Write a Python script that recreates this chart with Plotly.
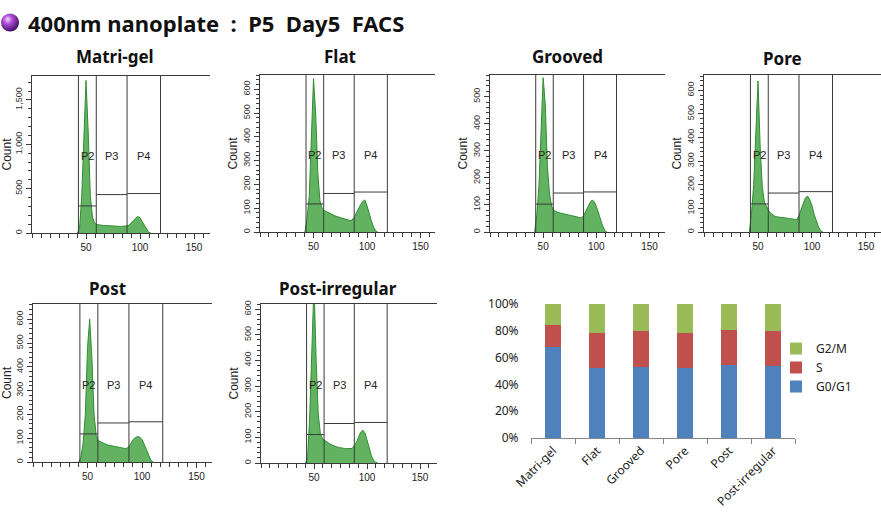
import base64
import plotly.graph_objects as go

W, H = 881, 528

# ---------------- data ----------------
hist_x = [42, 44, 46, 48, 50, 52, 54, 56, 58, 60, 62, 64, 66, 68, 70, 72, 74, 76,
          78, 80, 82, 84, 86, 88, 90, 92, 94, 96, 98, 100, 102, 104, 106, 108, 110]

matrigel_counts = [0, 50, 400, 1000, 1720, 1150, 420, 180, 110, 95, 90, 88, 85, 85, 82, 80, 80, 78,
                   76, 75, 74, 75, 76, 80, 90, 110, 140, 170, 185, 170, 130, 80, 35, 8, 0]
flat_counts = [0, 60, 150, 420, 645, 500, 250, 130, 100, 90, 85, 80, 75, 72, 68, 65, 62, 58,
               55, 52, 50, 48, 50, 62, 80, 100, 115, 128, 135, 110, 75, 48, 22, 5, 0]
grooved_counts = [0, 60, 170, 380, 570, 470, 240, 140, 95, 80, 75, 72, 70, 68, 66, 64, 62, 60,
                  58, 56, 54, 52, 52, 60, 78, 92, 108, 118, 112, 95, 70, 45, 22, 5, 0]
pore_counts = [0, 80, 200, 420, 640, 360, 190, 125, 105, 90, 78, 70, 66, 64, 62, 60, 60, 59,
               58, 56, 55, 53, 52, 70, 100, 122, 145, 152, 135, 112, 75, 45, 22, 5, 0]
post_counts = [0, 20, 80, 200, 480, 600, 440, 200, 110, 90, 85, 80, 75, 72, 70, 68, 65, 63,
               60, 58, 57, 57, 57, 65, 80, 95, 103, 107, 104, 95, 75, 50, 25, 8, 0]
postirr_counts = [0, 20, 190, 450, 700, 400, 190, 115, 95, 89, 82, 77, 72, 68, 64, 62, 60, 58,
                  57, 56, 56, 56, 57, 68, 80, 100, 120, 128, 118, 90, 55, 30, 12, 3, 0]

panel_names = ["Matri-gel", "Flat", "Grooved", "Pore", "Post", "Post-irregular"]
panel_counts = [matrigel_counts, flat_counts, grooved_counts, pore_counts, post_counts, postirr_counts]

gate_names = ["P2", "P3", "P4"]
gate_edges = [43, 59.5, 88, 119]
gate_levels = [
    [305, 433, 445],
    [118, 162, 168],
    [103, 144, 148],
    [119, 165, 171],
    [118, 164, 169],
    [111, 154, 158],
]
count_max = [1770, 660, 580, 665, 664, 620]
count_dtick = [500, 100, 100, 100, 100, 100]
x_max = [164.8, 163.5, 164.6, 163.9, 164.2, 166]
x_tick_vals = [50, 100, 150]

bar_categories = ["Matri-gel", "Flat", "Grooved", "Pore", "Post", "Post-irregular"]
g0g1 = [68, 52.5, 53, 52.5, 54.5, 54]
s_phase = [16, 26, 27, 26, 26, 26]
g2m = [16, 21.5, 20, 21.5, 19.5, 20]
bar_y_ticks = [0, 20, 40, 60, 80, 100]
bar_y_labels = ["0%", "20%", "40%", "60%", "80%", "100%"]

# ---------------- layout helpers ----------------
# panel boxes in pixels: left, right, top, bottom
boxes = [(32, 210, 76, 233), (260, 435, 75, 232), (490, 665, 75, 232),
         (704, 881, 75, 232), (33, 212, 304, 462), (261, 437, 304, 463)]
title_pos = [(115, 57), (340, 57), (567, 57), (782, 59), (107, 288), (338, 288)]


def px(x):
    return x / W


def py(y):
    return 1 - y / H


fig = go.Figure()
layout = dict(
    width=W, height=H, margin=dict(l=0, r=0, t=0, b=0, autoexpand=False),
    paper_bgcolor="white", plot_bgcolor="white",
    showlegend=True, shapes=[], annotations=[], images=[],
)

AX = "Liberation Sans"
LINE = "#3a3a3a"

for i, name in enumerate(panel_names):
    n = i + 1
    xa = "x" if n == 1 else f"x{n}"
    ya = "y" if n == 1 else f"y{n}"
    l, r, t, b = boxes[i]
    fig.add_trace(go.Scatter(
        x=hist_x, y=panel_counts[i], xaxis=xa, yaxis=ya, mode="lines",
        line=dict(color="#2f8f2f", width=1), fill="tozeroy",
        fillcolor="rgba(70,165,70,0.85)", showlegend=False, hoverinfo="skip",
        cliponaxis=True,
    ))
    layout[f"xaxis{'' if n == 1 else n}"] = dict(
        domain=[px(l), px(r)], anchor=ya, range=[0, x_max[i]], automargin=False,
        showline=True, mirror=True, linecolor=LINE, linewidth=1,
        ticks="outside", ticklen=5, tickcolor=LINE, tickvals=x_tick_vals,
        tickfont=dict(family=AX, size=10, color="#222"),
        minor=dict(ticks="outside", ticklen=4, tickcolor=LINE, tick0=0, dtick=50 / 6),
        showgrid=False, zeroline=False, fixedrange=True,
    )
    layout[f"yaxis{'' if n == 1 else n}"] = dict(
        domain=[py(b), py(t)], anchor=xa, range=[0, count_max[i]], automargin=False,
        showline=True, linecolor=LINE, linewidth=1,
        ticks="outside", ticklen=5, tickcolor=LINE, dtick=count_dtick[i],
        tickformat=",d", tickangle=-90,
        tickfont=dict(family=AX, size=9, color="#333"),
        minor=dict(ticks="outside", ticklen=3, tickcolor=LINE, dtick=count_dtick[i] / 5),
        title=dict(text="Count", font=dict(family=AX, size=12, color="#222"), standoff=2),
        showgrid=False, zeroline=False, fixedrange=True,
    )
    # gates
    for e in gate_edges:
        layout["shapes"].append(dict(type="line", xref=xa, yref=f"{ya} domain",
                                     x0=e, x1=e, y0=0, y1=1, line=dict(color=LINE, width=1)))
    for k, g in enumerate(gate_names):
        layout["shapes"].append(dict(type="line", xref=xa, yref=ya,
                                     x0=gate_edges[k], x1=gate_edges[k + 1],
                                     y0=gate_levels[i][k], y1=gate_levels[i][k],
                                     line=dict(color=LINE, width=1)))
        layout["annotations"].append(dict(
            text=g, xref=xa, yref=f"{ya} domain",
            x=(gate_edges[k] + gate_edges[k + 1]) / 2, y=0.49, showarrow=False,
            font=dict(family=AX, size=11, color="#222")))
    tx, ty = title_pos[i]
    layout["annotations"].append(dict(
        text=f"<b>{name}</b>", xref="paper", yref="paper", x=px(tx), y=py(ty),
        xanchor="center", yanchor="middle", showarrow=False,
        font=dict(family="Noto Sans", size=17, color="#111")))

# ---------------- stacked bar chart ----------------
bar_colors = {"G0/G1": "#4F81BD", "S": "#C0504D", "G2/M": "#9BBB59"}
for label, vals in [("G0/G1", g0g1), ("S", s_phase), ("G2/M", g2m)]:
    fig.add_trace(go.Bar(x=bar_categories, y=vals, name=label, xaxis="x7", yaxis="y7",
                         marker=dict(color=bar_colors[label], line=dict(width=0)),
                         width=0.38, hoverinfo="skip"))

BF = "Noto Sans"
layout["barmode"] = "stack"
layout["xaxis7"] = dict(domain=[px(531), px(795)], anchor="y7", automargin=False,
                        showline=True, linecolor="#868686", linewidth=1,
                        ticks="outside", tickson="boundaries", ticklen=5, tickcolor="#868686",
                        tickangle=-45, tickfont=dict(family=BF, size=12, color="#222"),
                        showgrid=False, fixedrange=True)
layout["yaxis7"] = dict(domain=[py(438), py(304)], anchor="x7", range=[0, 100], automargin=False,
                        tickvals=bar_y_ticks, ticktext=bar_y_labels, showline=False,
                        ticks="outside", ticklen=9, tickcolor="rgba(0,0,0,0)",
                        tickfont=dict(family=BF, size=12, color="#222"),
                        showgrid=False, zeroline=False, fixedrange=True)
layout["legend"] = dict(x=px(776), y=py(334), xanchor="left", yanchor="top",
                        traceorder="reversed", font=dict(family=BF, size=12, color="#222"),
                        itemwidth=30, bgcolor="rgba(0,0,0,0)", tracegroupgap=2)

# ---------------- main title with bullet ----------------
svg = ("<svg xmlns='http://www.w3.org/2000/svg' width='40' height='40'>"
       "<defs><radialGradient id='g' cx='0.38' cy='0.33' r='0.7'>"
       "<stop offset='0' stop-color='#f6d8ff'/><stop offset='0.35' stop-color='#b04fd8'/>"
       "<stop offset='1' stop-color='#3f0a60'/></radialGradient></defs>"
       "<circle cx='20' cy='20' r='19' fill='url(#g)'/></svg>")
uri = "data:image/svg+xml;base64," + base64.b64encode(svg.encode()).decode()
layout["images"].append(dict(source=uri, xref="paper", yref="paper",
                             x=px(0.5), y=py(13), sizex=px(19), sizey=19 / H,
                             xanchor="left", yanchor="top", sizing="stretch", layer="above"))
layout["annotations"].append(dict(
    text="<b>400nm nanoplate  :  P5  Day5  FACS</b>", xref="paper", yref="paper",
    x=px(26), y=py(23), xanchor="left", yanchor="middle", showarrow=False,
    font=dict(family="Noto Sans", size=22, color="#111")))

fig.update_layout(**layout)
fig.write_html("out.html", config={"displayModeBar": False},
               post_script="document.body.style.margin='0';")
